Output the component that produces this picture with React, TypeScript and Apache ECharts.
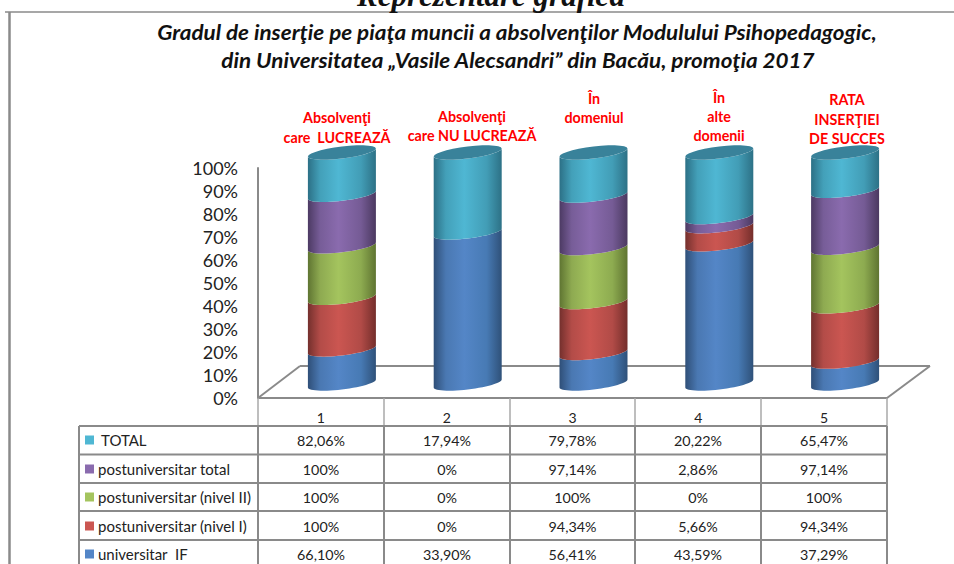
import React, { useEffect, useRef } from "react";
import * as echarts from "echarts";

const categories = ["1", "2", "3", "4", "5"];
const seriesNames = ["universitar  IF", "postuniversitar (nivel I)", "postuniversitar (nivel II)", "postuniversitar total", "TOTAL"];
const universitar = [66.1, 33.9, 56.41, 43.59, 37.29];
const nivelI = [100, 0, 94.34, 5.66, 94.34];
const nivelII = [100, 0, 100, 0, 100];
const postTotal = [100, 0, 97.14, 2.86, 97.14];
const total = [82.06, 17.94, 79.78, 20.22, 65.47];
const universitarLabels = ["66,10%", "33,90%", "56,41%", "43,59%", "37,29%"];
const nivelILabels = ["100%", "0%", "94,34%", "5,66%", "94,34%"];
const nivelIILabels = ["100%", "0%", "100%", "0%", "100%"];
const postTotalLabels = ["100%", "0%", "97,14%", "2,86%", "97,14%"];
const totalLabels = ["82,06%", "17,94%", "79,78%", "20,22%", "65,47%"];
const seriesColors = [
  ["#2f4f78", "#4a78b2", "#5486c7", "#477ab4", "#2f5179"],
  ["#74302d", "#b34c48", "#cb5651", "#b14b47", "#742e2b"],
  ["#5f7532", "#8eaa51", "#a4c45e", "#8dab50", "#5f7431"],
  ["#4c3a63", "#775d98", "#8a6bae", "#755b95", "#4b3960"],
  ["#2c7086", "#43a0b9", "#4fb7d3", "#429db6", "#2d7186"],
];
const topColor = "#39829a";
const annotations = [
  { lines: ["Absolvenţi", "care  LUCREAZĂ"], ys: [117, 137], x: 337 },
  { lines: ["Absolvenţi", "care NU LUCREAZĂ"], ys: [116, 135], x: 472 },
  { lines: ["În", "domeniul"], ys: [98, 117], x: 594 },
  { lines: ["În", "alte", "domenii"], ys: [97, 116, 135], x: 719 },
  { lines: ["RATA", "INSERŢIEI", "DE SUCCES"], ys: [99, 119, 138], x: 847 },
];
const titleLines = [
  "Gradul de inserţie pe piaţa muncii a absolvenţilor Modulului Psihopedagogic,",
  "din Universitatea „Vasile Alecsandri” din Bacău, promoţia 2017",
];
const pageHeading = "Reprezentare grafică";

const values = [universitar, nivelI, nivelII, postTotal, total];
const tableRows = [
  { name: "TOTAL", labels: totalLabels, color: 4, textX: 101 },
  { name: "postuniversitar total", labels: postTotalLabels, color: 3, textX: 98 },
  { name: "postuniversitar (nivel II)", labels: nivelIILabels, color: 2, textX: 98 },
  { name: "postuniversitar (nivel I)", labels: nivelILabels, color: 1, textX: 98 },
  { name: "universitar  IF", labels: universitarLabels, color: 0, textX: 98 },
];

const FONT = "Lato";
const GREY = "#8a8a8a";

function stackData(seriesIndex: number) {
  return categories.map((_, i) => {
    const sum = values.reduce((acc, s) => acc + s[i], 0);
    let base = 0;
    for (let k = 0; k < seriesIndex; k++) base += values[k][i];
    return [i, (base / sum) * 100, ((base + values[seriesIndex][i]) / sum) * 100];
  });
}

const RX = 34;
const RY = 6;
const TILT = 4;
const STEPS = 28;

function rimPoint(cx: number, cy: number, t: number) {
  return [cx + RX * Math.cos(t), cy + RY * Math.sin(t) - TILT * Math.cos(t)];
}

function rimPath(cx: number, cy: number, from: number, to: number) {
  const pts: string[] = [];
  for (let k = 0; k <= STEPS; k++) {
    const [x, y] = rimPoint(cx, cy, from + ((to - from) * k) / STEPS);
    pts.push(`${x.toFixed(2)} ${y.toFixed(2)}`);
  }
  return pts;
}

function cylinderItem(seriesIndex: number) {
  const isTop = seriesIndex === values.length - 1;
  return (params: any, api: any) => {
    const i = api.value(0);
    const lo = api.value(1);
    const hi = api.value(2);
    if (hi - lo <= 0) return { type: "group", children: [] };
    const [cx, y0] = api.coord([i, lo]);
    const [, y1] = api.coord([i, hi]);
    const lower = rimPath(cx, y0, Math.PI, 0);
    const upper = rimPath(cx, y1, 0, Math.PI);
    const d = "M" + lower.concat(upper).join(" L") + " Z";
    const c = seriesColors[seriesIndex];
    const children: any[] = [
      {
        type: "path",
        shape: { pathData: d },
        style: {
          fill: new echarts.graphic.LinearGradient(0, 0, 1, 0, [
            { offset: 0, color: c[0] },
            { offset: 0.18, color: c[1] },
            { offset: 0.45, color: c[2] },
            { offset: 0.78, color: c[3] },
            { offset: 1, color: c[4] },
          ]),
        },
      },
    ];
    if (isTop) {
      children.push({
        type: "path",
        shape: { pathData: "M" + rimPath(cx, y1, 0, Math.PI * 2).join(" L") + " Z" },
        style: { fill: topColor },
      });
    }
    return { type: "group", children };
  };
}

function line(x1: number, y1: number, x2: number, y2: number, width = 2, stroke = GREY) {
  return { type: "line", shape: { x1, y1, x2, y2 }, style: { stroke, lineWidth: width }, silent: true, z: 1 };
}

function text(t: string, x: number, y: number, font: string, fill: string, align = "center", scaleX = 1) {
  return { type: "text", x, y, scaleX, style: { text: t, font, fill, align, verticalAlign: "middle" }, silent: true, z: 5 };
}

const colEdges = [258, 384, 510, 635, 761, 887];
const rowEdges = [426, 454.5, 483, 511, 540];
const rowCenters = [440, 469, 497, 526, 554];

function buildGraphics() {
  const out: any[] = [];
  out.push(line(5, 12, 954, 12, 1.5));
  out.push(line(9.5, 12, 9.5, 564, 2.5));
  out.push(line(258, 398, 300, 366));
  out.push(line(300, 366, 930, 366));
  out.push(line(930, 366, 887, 398));
  colEdges.forEach((x) => out.push(line(x, 398, x, 426, 1.5, "#a8a8a8")));
  colEdges.forEach((x) => out.push(line(x, 426, x, 564)));
  out.push(line(79, 426, 79, 564));
  rowEdges.forEach((y) => out.push(line(79, y, 887, y)));
  tableRows.forEach((row, r) => {
    const y = rowCenters[r];
    out.push({ type: "rect", shape: { x: 85, y: y - 4.5, width: 9, height: 9 }, style: { fill: seriesColors[row.color][2] }, silent: true, z: 5 });
    out.push(text(row.name, row.textX, y, `15px ${FONT}`, "#222", "left"));
    row.labels.forEach((label, c) => {
      out.push(text(label, (colEdges[c] + colEdges[c + 1]) / 2, y, `14.3px ${FONT}`, "#222"));
    });
  });
  annotations.forEach((a) => {
    a.lines.forEach((l, k) => out.push(text(l, a.x, a.ys[k], `bold 14.3px ${FONT}`, "#ff0000")));
  });
  out.push(text(titleLines[0], 517, 32, `italic bold 21px ${FONT}`, "#111", "center", 1.07));
  out.push(text(titleLines[1], 518, 60, `italic bold 21px ${FONT}`, "#111", "center", 1.07));
  out.push(text(pageHeading, 491, -5, `italic bold 31px "Liberation Serif"`, "#111"));
  return out;
}

export default function App() {
  const ref = useRef<HTMLDivElement>(null);
  useEffect(() => {
    if (!ref.current) return;
    const chart = echarts.init(ref.current, undefined, { renderer: "svg" });
    chart.setOption({
      animation: false,
      backgroundColor: "#ffffff",
      grid: [
        { left: 258, width: 629, top: 168, height: 230, containLabel: false },
        { left: 279, width: 629, top: 152.5, height: 231, containLabel: false },
      ],
      xAxis: [
        {
          type: "category",
          gridIndex: 0,
          data: categories,
          axisLine: { lineStyle: { color: GREY, width: 2 } },
          axisTick: { show: false },
          axisLabel: { color: "#222", fontFamily: FONT, fontSize: 14, margin: 12 },
        },
        { type: "category", gridIndex: 1, data: categories, show: false },
      ],
      yAxis: [
        {
          type: "value",
          gridIndex: 0,
          min: 0,
          max: 100,
          interval: 10,
          axisLine: { show: true, lineStyle: { color: GREY, width: 2 } },
          axisTick: { show: false },
          splitLine: { show: false },
          axisLabel: { formatter: "{value}%", color: "#222", fontFamily: FONT, fontSize: 18, margin: 20 },
        },
        { type: "value", gridIndex: 1, min: 0, max: 100, show: false, splitLine: { show: false } },
      ],
      series: seriesNames.map((name, s) => ({
        type: "custom",
        name,
        xAxisIndex: 1,
        yAxisIndex: 1,
        coordinateSystem: "cartesian2d",
        clip: false,
        silent: true,
        encode: { x: 0, y: [1, 2] },
        data: stackData(s),
        renderItem: cylinderItem(s),
        z: 3 + s,
      })),
      graphic: { elements: buildGraphics() },
    });
    return () => chart.dispose();
  }, []);
  return <div ref={ref} style={{ position: "fixed", left: 0, top: 0, width: 954, height: 564 }} />;
}
